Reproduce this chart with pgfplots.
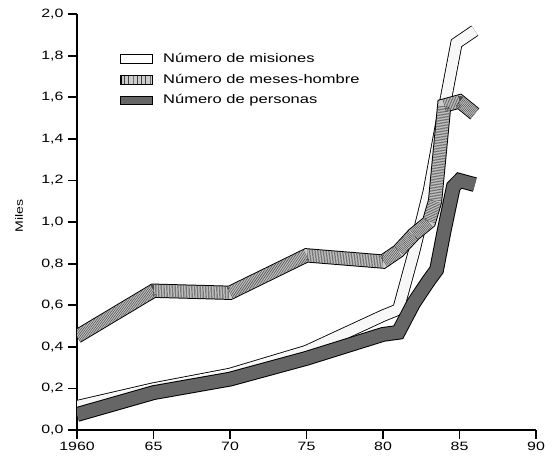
\documentclass[border=0pt]{standalone}
\usepackage{fontspec}
\setmainfont{Liberation Sans}[FakeStretch=1.32]
\usepackage{pgfplots}
\pgfplotsset{compat=1.18}
\usetikzlibrary{patterns}

% Numero de misiones (miles)
\pgfplotstableread{
x y
1960 0.115
1965 0.20
1970 0.27
1975 0.38
1980 0.55
1981 0.58
1982 0.85
1983 1.15
1984 1.55
1984.8 1.86
1986 1.92
}\misiones

% Numero de meses-hombre (miles)
\pgfplotstableread{
x y
1960 0.45
1965 0.67
1970 0.66
1975 0.84
1980 0.81
1981 0.86
1982 0.94
1983 1.00
1983.4 1.10
1984 1.56
1985 1.58
1986 1.52
}\meses

% Numero de personas (miles)
\pgfplotstableread{
x y
1960 0.075
1965 0.18
1970 0.245
1975 0.345
1980 0.46
1981 0.47
1982 0.61
1983 0.72
1983.5 0.77
1984 0.96
1984.6 1.17
1985 1.20
1986 1.18
}\personas

\begin{document}
\begin{tikzpicture}
\begin{axis}[
  scale only axis, width=323pt, height=292.8pt,
  xmin=1960, xmax=1990, ymin=0, ymax=2,
  axis lines=left,
  axis line style={-, line width=1.5pt},
  tick style={line width=1.3pt, black},
  tick align=outside, major tick length=6pt,
  xtick={1960,1965,1970,1975,1980,1985,1990},
  xticklabels={1960,65,70,75,80,85,90},
  ytick={0,0.2,0.4,0.6,0.8,1.0,1.2,1.4,1.6,1.8,2.0},
  yticklabel style={/pgf/number format/.cd, fixed, fixed zerofill, precision=1, use comma, assume math mode=true},
  ticklabel style={font=\fontsize{8.5}{10}\selectfont},
  xticklabel style={yshift=1pt},
  ylabel={Miles},
  every axis y label/.append style={at={(rel axis cs:-0.126,0.514)}, anchor=center, font=\fontsize{7.5}{9}\selectfont},
  legend style={at={(rel axis cs:0.094,0.913)}, anchor=north west, draw=none, fill=none,
    font=\fontsize{8.8}{10}\selectfont, row sep=2.6pt, inner sep=0pt},
  legend cell align=left,
  line join=miter, miter limit=1.6, line cap=butt,
]
% misiones: banda blanca
\addplot[forget plot, black, line width=8.6pt] table {\misiones};
\addplot[forget plot, gray!6, line width=7.4pt] table {\misiones};
% meses-hombre: banda rayada
\addplot[forget plot, black, line width=10pt] table {\meses};
\addplot[forget plot, gray!40, line width=8.6pt] table {\meses};
\addplot[forget plot, black!70, line width=8.6pt, dash pattern=on 0.35pt off 0.75pt, line join=bevel] table {\meses};
% personas: banda oscura
\addplot[forget plot, black, line width=10.4pt] table {\personas};
\addplot[forget plot, black!60, line width=9pt] table {\personas};

\addlegendimage{legend image code/.code={\draw[black, line width=0.6pt, fill=white] (0pt,-3pt) rectangle (22pt,3pt);}}
\addlegendentry{\hspace*{5.5pt}Número de misiones}
\addlegendimage{legend image code/.code={\fill[gray!40] (0pt,-3pt) rectangle (22pt,3pt);
  \fill[pattern=vertical lines, pattern color=black!75] (0pt,-3pt) rectangle (22pt,3pt);
  \draw[black, line width=0.6pt] (0pt,-3pt) rectangle (22pt,3pt);}}
\addlegendentry{\hspace*{5.5pt}Número de meses-hombre}
\addlegendimage{legend image code/.code={\draw[black, line width=0.6pt, fill=black!60] (0pt,-3pt) rectangle (22pt,3pt);}}
\addlegendentry{\hspace*{5.5pt}Número de personas}

\coordinate (bbsw) at (rel axis cs:-0.1678,-0.0697);
\coordinate (bbne) at (rel axis cs:1.0392,1.0337);
\end{axis}
\pgfresetboundingbox
\useasboundingbox (bbsw) rectangle (bbne);
\end{tikzpicture}
\end{document}
